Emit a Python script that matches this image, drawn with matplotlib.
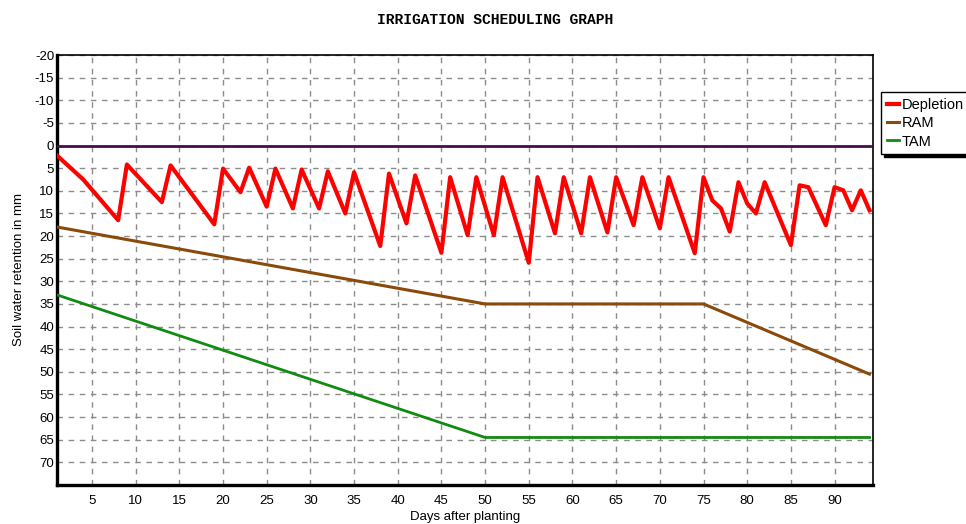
import matplotlib
matplotlib.use("Agg")
import matplotlib.pyplot as plt

# values (day after planting, mm)
dep_days = [1, 4, 8, 9, 13, 14, 19, 20, 22, 23, 25, 26, 28, 29, 31, 32, 34, 35,
            38, 39, 41, 42, 45, 46, 48, 49, 51, 52, 55, 56, 58, 59, 61, 62, 64, 65,
            67, 68, 70, 71, 74, 75, 76, 77, 78, 79, 80, 81, 82, 85, 86, 87, 89, 90,
            91, 92, 93, 94]
depletion = [2.2, 7.5, 16.5, 4.2, 12.5, 4.4, 17.4, 5.1, 10.3, 4.9, 13.5, 5.1, 13.9, 5.3,
             13.9, 5.7, 15.0, 5.9, 22.2, 6.2, 17.2, 6.6, 23.7, 7.0, 19.8, 7.0, 19.8, 7.0,
             25.9, 7.0, 19.4, 7.0, 19.4, 7.0, 19.2, 7.0, 17.6, 7.0, 18.3, 7.0, 23.8, 7.0,
             12.1, 13.9, 19.0, 8.1, 12.8, 15.0, 8.1, 22.0, 8.8, 9.2, 17.6, 9.2, 9.9, 14.3,
             9.9, 14.3]

ram_days = [1, 50, 75, 94]
ram = [18.0, 35.0, 35.0, 50.5]

tam_days = [1, 50, 94]
tam = [33.0, 64.5, 64.5]

zero_days = [1, 94]
zero = [0, 0]

xticks = list(range(5, 91, 5))
yticks = list(range(-20, 71, 5))

plt.rcParams['font.family'] = ['Liberation Sans', 'DejaVu Sans']
plt.rcParams['axes.unicode_minus'] = False

fig = plt.figure(figsize=(9.66, 5.24), dpi=100)
ax = fig.add_axes([57 / 966, 1 - 485 / 524, (873 - 57) / 966, (485 - 55) / 524])

ax.plot(zero_days, zero, color="#4a0c4a", lw=2.0, zorder=3)
ax.plot(tam_days, tam, color="#138a13", lw=2.0, label="TAM", zorder=3)
ax.plot(ram_days, ram, color="#8a4a0a", lw=2.2, label="RAM", zorder=3)
ax.plot(dep_days, depletion, color="#ff0000", lw=3.0, label="Depletion", zorder=4)

ax.set_xlim(1, 94.4)
ax.set_ylim(75, -20)
ax.set_xticks(xticks)
ax.set_yticks(yticks)
ax.tick_params(length=0, labelsize=9.5)
ax.tick_params(axis="y", pad=2)
ax.tick_params(axis="x", pad=7)
ax.grid(True, color="#8c8c8c", linestyle=(0, (4, 4)), linewidth=1.0)

for side in ["left", "bottom"]:
    ax.spines[side].set_linewidth(2.4)
for side in ["top", "right"]:
    ax.spines[side].set_linewidth(1.2)

ax.set_xlabel("Days after planting", fontsize=9.5, labelpad=3)
ax.set_ylabel("Soil water retention in mm", fontsize=9.5, labelpad=7)

fig.text(495 / 966, 1 - 20 / 524, "IRRIGATION SCHEDULING GRAPH", ha="center", va="center",
         family="Liberation Mono", fontsize=10.5, fontweight="bold")

h, l = ax.get_legend_handles_labels()
order = [2, 1, 0]
leg = fig.legend([h[i] for i in order], [l[i] for i in order],
                 loc="upper left", bbox_to_anchor=(881 / 966, 1 - 92 / 524),
                 frameon=True, fancybox=False, shadow={"color": "black", "alpha": 1},
                 handlelength=0.8, handletextpad=0.2, borderpad=0.4, labelspacing=0.3,
                 borderaxespad=0, fontsize=10.5)
leg.get_frame().set_edgecolor("black")
leg.get_frame().set_linewidth(1.0)

fig.savefig("out.png", dpi=100)
